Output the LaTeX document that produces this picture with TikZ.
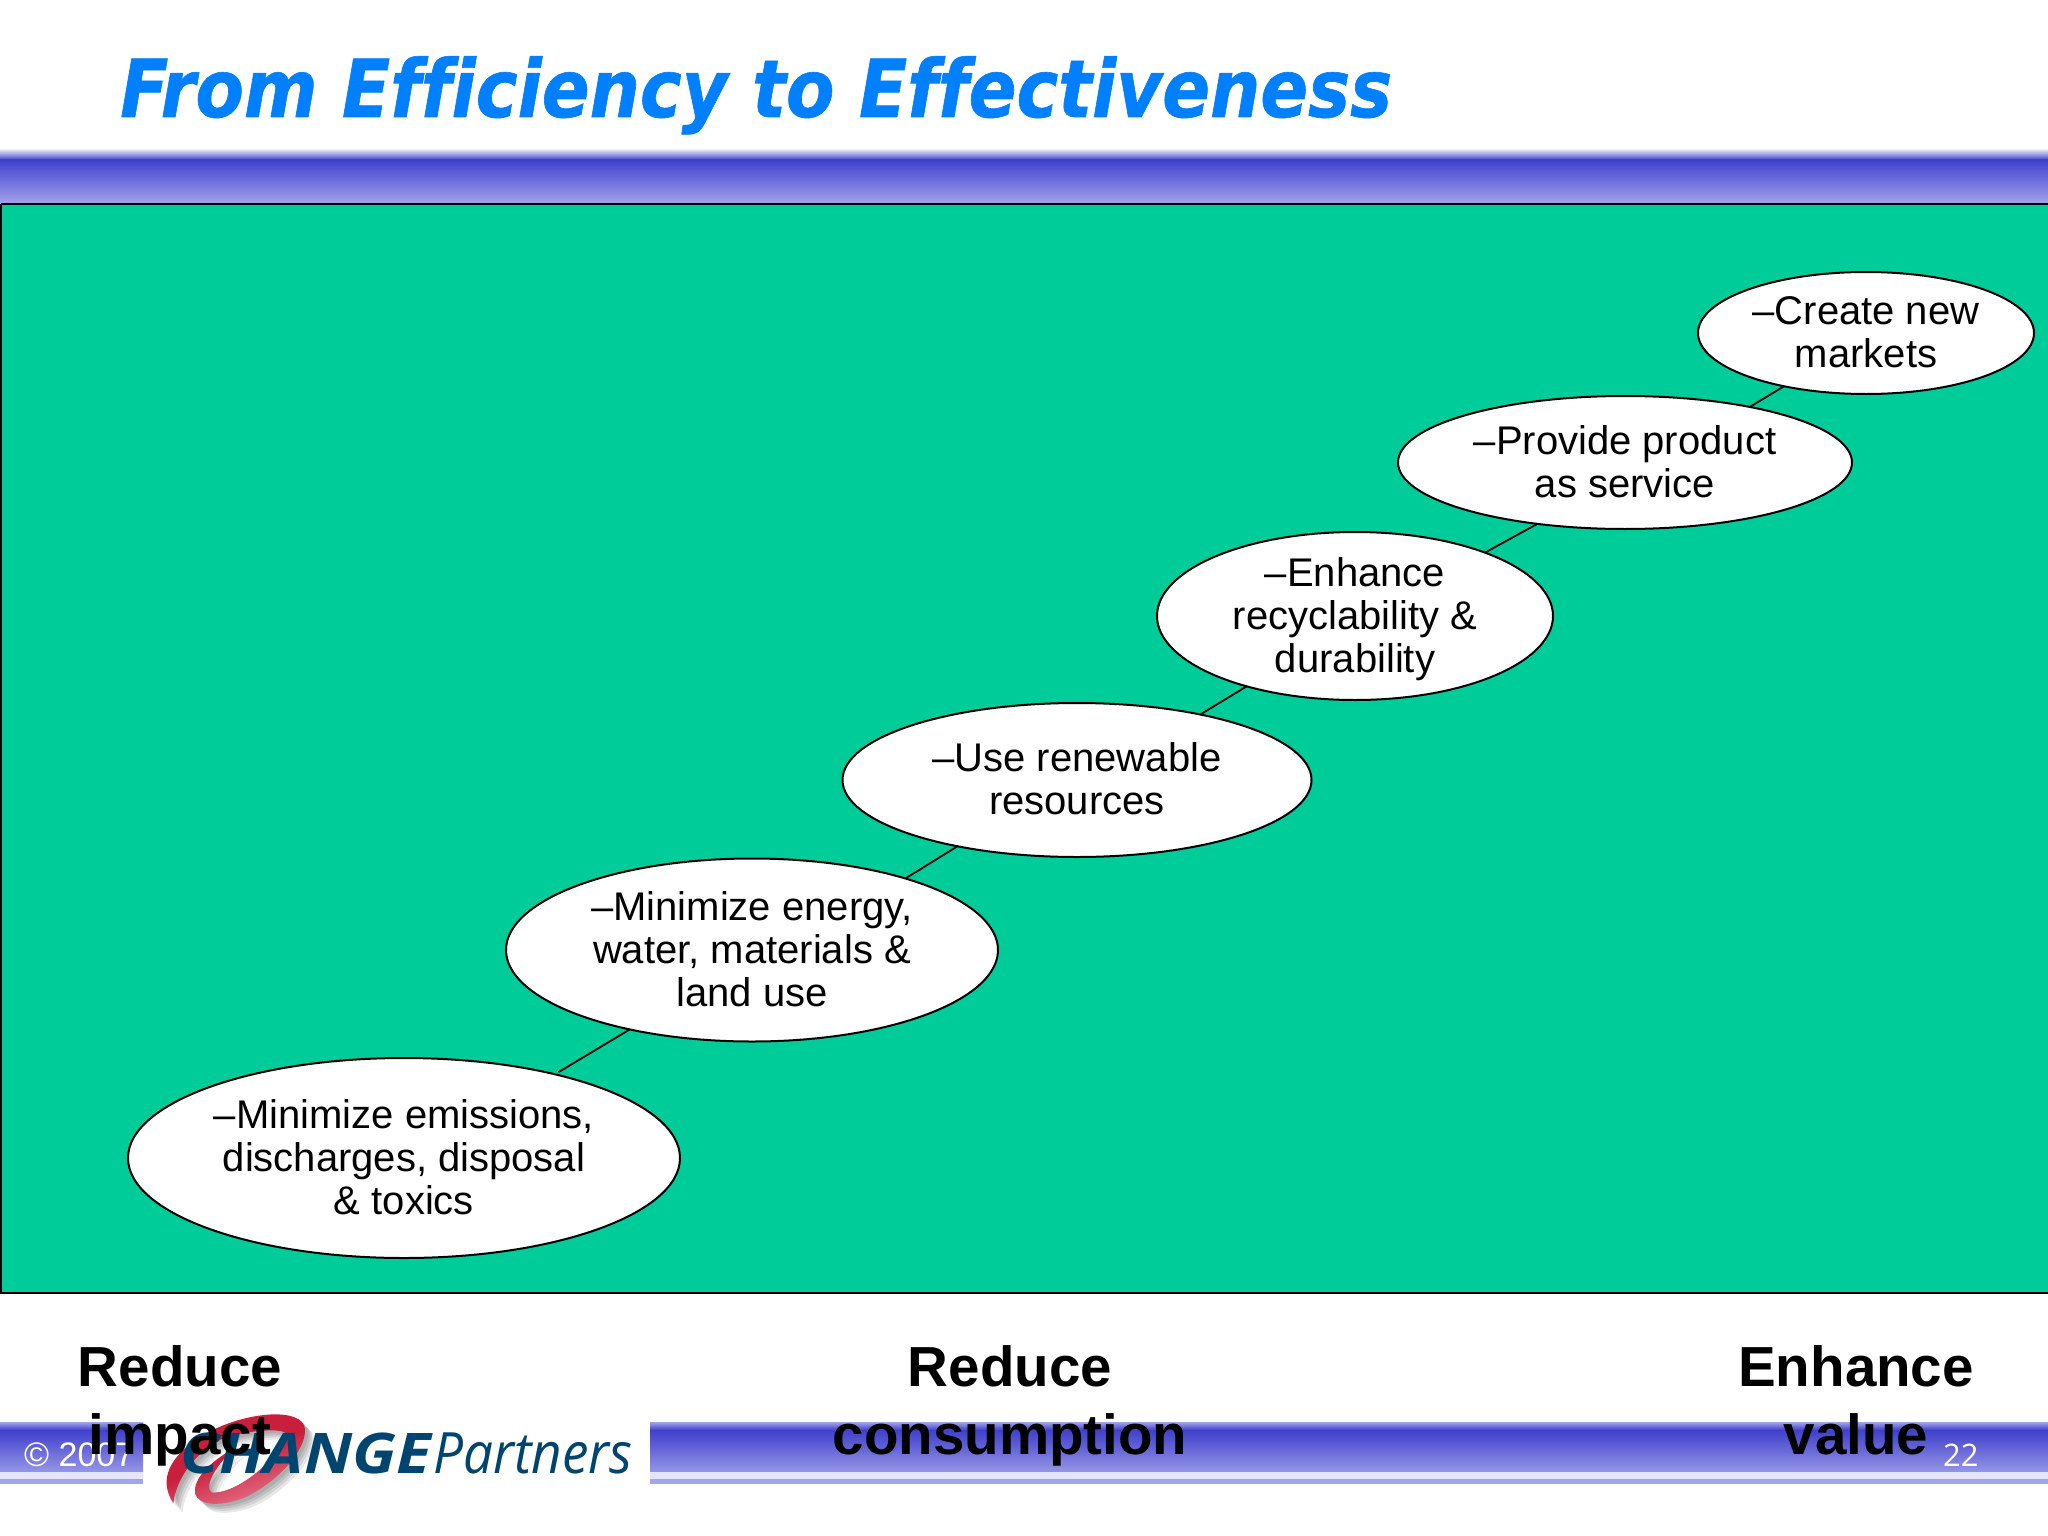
\documentclass[tikz,border=0pt]{standalone}
\usepackage{fontspec}
\usetikzlibrary{shapes.geometric}
\setmainfont{Liberation Sans}
\newfontfamily\ttlfont[FakeStretch=0.882,FakeBold=0.8,Ligatures=NoCommon]{DejaVu Sans}
\newfontfamily\chgfont[FakeStretch=1.14]{Open Sans}
\newfontfamily\prtfont[FakeStretch=0.93]{Open Sans}
\newfontfamily\numfont{Open Sans}
\definecolor{bandDark}{HTML}{4040CC}
\definecolor{bandLight}{HTML}{A4A4EA}
\definecolor{bandPale}{HTML}{E4E4FA}
\definecolor{panelGreen}{HTML}{00CC99}
\definecolor{titleBlue}{HTML}{0080FF}
\definecolor{logoBlue}{HTML}{004570}
\definecolor{logoRed}{HTML}{C8203C}
\definecolor{logoPink}{HTML}{E87A90}
\newcommand{\elltext}[1]{\raisebox{-21.5pt}{\smash{\begin{tabular}{@{}c@{}}#1\end{tabular}}}}
\newcommand{\swooshpath}{(100,310) .. controls (55,240) and (85,170) .. (190,105) .. controls (300,40) and (465,20) .. (492,75) .. controls (512,130) and (430,235) .. (320,290) .. controls (250,320) and (175,320) .. (165,280) .. controls (160,240) and (200,190) .. (290,140) .. controls (230,190) and (190,260) .. (215,278) .. controls (290,280) and (400,190) .. (440,110) .. controls (450,80) and (340,90) .. (260,110) .. controls (170,150) and (110,230) .. (100,310) -- cycle}
\tikzset{
  x=1pt,y=-1pt,
  bubble/.style={ellipse,draw=black,line width=2pt,fill=white,inner sep=0pt,outer sep=0pt,
    font=\fontsize{40}{43}\selectfont},
  link/.style={draw=black,line width=1.8pt},
  axislabel/.style={inner sep=0pt,align=center,text=black,
    font=\fontsize{56.5}{68}\selectfont\bfseries},
  foot/.style={inner sep=0pt,text=white,anchor=base west}
}
\begin{document}
\begin{tikzpicture}
\useasboundingbox (0,0) rectangle (2048,1536);
\fill[white] (0,0) rectangle (2048,1536);
% top band
\shade[top color=white,bottom color=bandDark] (0,148) rectangle (2048,160);
\shade[top color=bandDark,bottom color=bandLight] (0,160) rectangle (2048,204);
% title
\node[anchor=base west,inner sep=0pt,text=titleBlue,font=\ttlfont\fontsize{80}{90}\selectfont\bfseries\itshape] (title) at (120,117) {From Efficiency to Effectiveness};
% panel
\fill[panelGreen] (0,204) rectangle (2048,1293);
\draw[black,line width=2pt] (1,204) -- (2048,204);
\draw[black,line width=2pt] (1,204) -- (1,1293) -- (2048,1293);
% bubbles
\node[bubble,minimum width=552pt,minimum height=200pt] (e1) at (404,1158) {\elltext{–Minimize emissions,\\discharges, disposal\\\& toxics}};
\node[bubble,minimum width=492pt,minimum height=183pt] (e2) at (752,950) {\elltext{–Minimize energy,\\water, materials \&\\land use}};
\node[bubble,minimum width=469pt,minimum height=154pt] (e3) at (1077,780) {\elltext{–Use renewable\\resources}};
\node[bubble,minimum width=396pt,minimum height=168pt] (e4) at (1355,616) {\elltext{–Enhance\\recyclability \&\\durability}};
\node[bubble,minimum width=454pt,minimum height=133pt] (e5) at (1625,462.5) {\elltext{–Provide product\\as service}};
\node[bubble,minimum width=336pt,minimum height=122pt] (e6) at (1866,333) {\elltext{–Create new\\markets}};
% connectors
\draw[link,shorten <=4pt] (e1.29.7) -- (e2.213);
\draw[link] (e2.25.8) -- (e3.209.6);
\draw[link] (e3.28.6) -- (e4.213);
\draw[link] (e4.26) -- (e5.215.7);
\draw[link] (e5.24.3) -- (e6.213.7);
% bottom band
\foreach \xa/\xb in {0/143,650/2048}{
  \shade[top color=bandLight,bottom color=bandDark] (\xa,1422) rectangle (\xb,1430);
  \shade[top color=bandDark,bottom color=bandLight!85!bandDark] (\xa,1430) rectangle (\xb,1472);
  \fill[bandPale] (\xa,1472) rectangle (\xb,1479);
  \fill[bandLight] (\xa,1479) rectangle (\xb,1484);
}
\node[foot,font=\fontsize{34}{40}\selectfont] (copy) at (24,1466) {© 2007};
\node[foot,font=\numfont\fontsize{31}{36}\selectfont] (pagenum) at (1943,1466) {22};
% logo
\begin{scope}[shift={(140,1400)},scale=1/3]
  \foreach \d in {27,21,15,9}{
    \fill[black,opacity=0.09,shift={(\d,\d)}] \swooshpath;
  }
  \shade[top color=logoPink,bottom color=logoRed,middle color=logoRed,shading angle=200] \swooshpath;
\end{scope}
\node[anchor=base west,inner sep=0pt,text=logoBlue,font=\chgfont\fontsize{56}{60}\selectfont\bfseries\itshape] (chg) at (180,1473) {CHANGE};
\node[anchor=base west,inner sep=0pt,text=logoBlue,font=\prtfont\fontsize{57}{60}\selectfont\itshape] (prt) at (433,1473) {Partners};
% axis labels
\node[axislabel] (l1) at (180,1405.6) {Reduce\\impact};
\node[axislabel] (l2) at (1010,1405.6) {Reduce\\consumption};
\node[axislabel] (l3) at (1856,1400) {Enhance\\value};
\end{tikzpicture}
\end{document}
